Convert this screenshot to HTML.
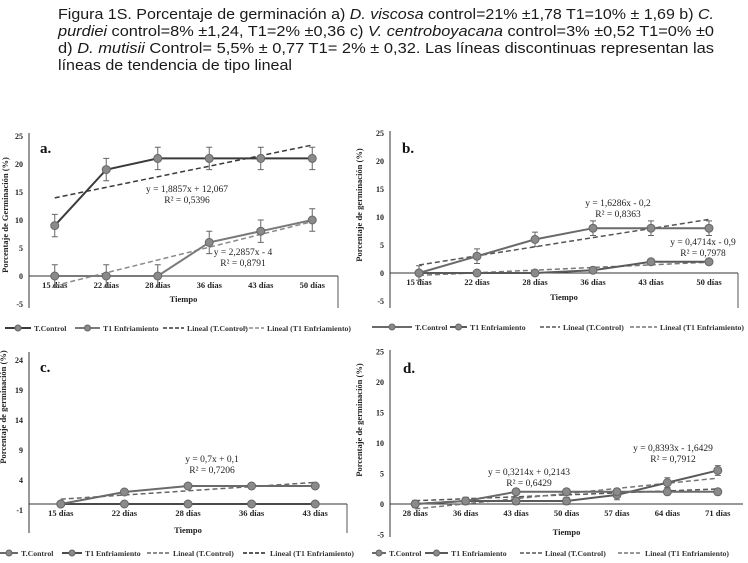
<!DOCTYPE html>
<html><head><meta charset="utf-8">
<style>
body{margin:0;background:#fff;}
svg{display:block;}
.cap{font-family:"Liberation Sans",sans-serif;font-size:15px;fill:#1a1a1a;}
.tick{font-family:"Liberation Serif",serif;font-weight:bold;font-size:8px;fill:#222;}
.cat{font-family:"Liberation Serif",serif;font-weight:bold;font-size:8.5px;fill:#222;}
.ttl{font-family:"Liberation Serif",serif;font-weight:bold;font-size:8.5px;fill:#222;}
.eq{font-family:"Liberation Serif",serif;font-size:9.5px;fill:#222;}
.lab{font-family:"Liberation Serif",serif;font-weight:bold;font-size:15px;fill:#111;}
.leg{font-family:"Liberation Serif",serif;font-weight:bold;font-size:7.8px;fill:#333;}
</style></head>
<body>
<svg id="fig" width="748" height="563" viewBox="0 0 748 563">
<g>
<text class="cap" x="58" y="19" textLength="656" lengthAdjust="spacingAndGlyphs">Figura 1S. Porcentaje de germinación a) <tspan font-style="italic">D. viscosa</tspan> control=21% ±1,78 T1=10% ± 1,69 b) <tspan font-style="italic">C.</tspan></text>
<text class="cap" x="58" y="36" textLength="656" lengthAdjust="spacingAndGlyphs"><tspan font-style="italic">purdiei</tspan> control=8% ±1,24, T1=2% ±0,36 c) <tspan font-style="italic">V. centroboyacana</tspan> control=3% ±0,52 T1=0% ±0</text>
<text class="cap" x="58" y="53" textLength="656" lengthAdjust="spacingAndGlyphs">d) <tspan font-style="italic">D. mutisii</tspan> Control= 5,5% ± 0,77 T1= 2% ± 0,32. Las líneas discontinuas representan las</text>
<text class="cap" x="58" y="70" textLength="234" lengthAdjust="spacingAndGlyphs">líneas de tendencia de tipo lineal</text>
</g>
</svg>
<script>
// Panel a data
const catsA = ["15 días","22 días","28 días","36 días","43 días","50 días"];
const ctrlA = [9,19,21,21,21,21];
const t1A = [0,0,0,6,8,10];
const errCtrlA = [2,2,2,2,2,2];
const errT1A = [2,2,2,2,2,2];
const ticksA = [-5,0,5,10,15,20,25];
// Panel b data
const catsB = ["15 días","22 días","28 días","36 días","43 días","50 días"];
const ctrlB = [0,3,6,8,8,8];
const t1B = [0,0,0,0.5,2,2];
const errCtrlB = [1.3,1.3,1.3,1.3,1.3,1.3];
const errT1B = [0.3,0.3,0.3,0.3,0.3,0.3];
const ticksB = [-5,0,5,10,15,20,25];
// Panel c data
const catsC = ["15 días","22 días","28 días","36 días","43 días"];
const ctrlC = [0,2,3,3,3];
const t1C = [0,0,0,0,0];
const ticksC = [-1,4,9,14,19,24];
// Panel d data
const catsD = ["28 días","36 días","43 días","50 días","57 días","64 días","71 días"];
const ctrlD = [0,0.5,2,2,2,2,2];
const t1D = [0,0.5,0.5,0.5,1.5,3.5,5.5];
const errCtrlD = [0.5,0.5,0.5,0.5,0.5,0.5,0.5];
const errT1D = [0.6,0.6,0.6,0.6,0.8,0.8,0.8];
const ticksD = [-5,0,5,10,15,20,25];

const NS="http://www.w3.org/2000/svg";
const svg=document.getElementById('fig');
function mk(tag,attrs,parent,txt){const e=document.createElementNS(NS,tag);for(const k in attrs)e.setAttribute(k,attrs[k]);if(txt!==undefined)e.textContent=txt;(parent||svg).appendChild(e);return e;}
function fit(v){const n=v.length;let mx=(n+1)/2,my=v.reduce((a,b)=>a+b,0)/n,s=0,d=0;v.forEach((y,i)=>{s+=(i+1-mx)*(y-my);d+=(i+1-mx)*(i+1-mx);});const m=s/d;return [m,my-m*mx];}

function panel(P){
  const g=mk('g',{});
  
  
  const n=P.cats.length;
  const xs=i=>P.x0+(P.x1-P.x0)*(i+0.5)/n;
  const xc=x=>P.x0+(P.x1-P.x0)*(x-0.5)/n;
  const ys=v=>P.y0-(v)*P.ppu;
  const ya=mk('line',{x1:P.x0,y1:P.yTop,x2:P.x0,y2:P.yBot,stroke:'#333','stroke-width':1},g);
  
  const xa=mk('line',{x1:P.x0,y1:ys(0),x2:P.x1,y2:ys(0),stroke:'#333','stroke-width':1},g);
  
  if(P.rightEdge){mk('line',{x1:P.x1,y1:ys(0),x2:P.x1,y2:P.yBot,stroke:'#555','stroke-width':1},g);}
  P.ticks.forEach(t=>{const e=mk('text',{class:'tick',x:P.x0-6,y:ys(t)+3,'text-anchor':'end'},g,String(t));
    });
  P.cats.forEach((c,i)=>{const e=mk('text',{class:'cat',x:xs(i),y:ys(0)+12,'text-anchor':'middle'},g,c);
    });
  const xt=mk('text',{class:'ttl',x:(P.x0+P.x1)/2,y:P.tiempoY,'text-anchor':'middle'},g,'Tiempo');
  
  const yt=mk('text',{class:'ttl',x:0,y:0,'text-anchor':'middle',transform:`translate(${P.ytX},${P.ytY}) rotate(-90)`},g,P.ytitle);
  
  const lb=mk('text',{class:'lab',x:P.labX,y:P.labY},g,P.id+'.');
  
  [[P.ctrl,P.ctrlTrendColor],[P.t1,P.t1TrendColor]].forEach(([v,col],k)=>{
    const [m,b]=fit(v);
    const tl=mk('line',{x1:xc(1),y1:ys(m*1+b),x2:xc(n),y2:ys(m*n+b),stroke:col,'stroke-width':1.5,'stroke-dasharray':'5,3'},g);
    
  });
  [[P.t1,P.errT1,P.t1Color,'t1'],[P.ctrl,P.errCtrl,P.ctrlColor,'control']].forEach(([v,err,col,nm])=>{
    if(err){v.forEach((y,i)=>{const eb=mk('path',{d:`M${xs(i)},${ys(y+err[i])}V${ys(y-err[i])}M${xs(i)-3},${ys(y+err[i])}h6M${xs(i)-3},${ys(y-err[i])}h6`,stroke:'#666','stroke-width':1,fill:'none'},g);
      });}
    const pl=mk('polyline',{points:v.map((y,i)=>xs(i)+','+ys(y)).join(' '),fill:'none',stroke:col,'stroke-width':2},g);
    
    v.forEach((y,i)=>{const c=mk('circle',{cx:xs(i),cy:ys(y),r:4,fill:'#8a8a8a',stroke:'#666','stroke-width':1},g);
      });
  });
  P.eqs.forEach(q=>{
    const e1=mk('text',{class:'eq',x:q[0],y:q[1],'text-anchor':'middle'},g,q[2]);
    
    const e2=mk('text',{class:'eq',x:q[0],y:q[1]+11,'text-anchor':'middle'},g,q[3]);
    
  });
  const L=P.leg, ly=P.legY;
  const lg=mk('g',{},g);
  
  const names=['T.Control','T1 Enfriamiento','Lineal (T.Control)','Lineal (T1 Enfriamiento)'];
  const cols=[P.ctrlColor,P.t1Color,P.ctrlTrendColor,P.t1TrendColor];
  L.forEach((s,k)=>{
    const ent=mk('g',{},lg);
    
    if(k<2){mk('line',{x1:s[0],y1:ly,x2:s[1],y2:ly,stroke:cols[k],'stroke-width':2},ent);
      mk('circle',{cx:(s[0]+s[1])/2,cy:ly,r:3,fill:'#8a8a8a',stroke:'#666'},ent);}
    else mk('line',{x1:s[0],y1:ly,x2:s[1],y2:ly,stroke:cols[k],'stroke-width':1.5,'stroke-dasharray':'4,2'},ent);
    mk('text',{class:'leg',x:s[1]+3,y:ly+3},ent,names[k]);
  });
}

panel({id:'a',cats:catsA,ctrl:ctrlA,t1:t1A,errCtrl:errCtrlA,errT1:errT1A,ticks:ticksA,
  x0:29,x1:338,y0:276,ppu:5.6,yTop:133,yBot:308,rightEdge:true,tiempoY:302,
  ytitle:'Porcentaje de Germinación (%)',ytX:8,ytY:215,labX:40,labY:153,
  ctrlColor:'#3a3a3a',t1Color:'#7a7a7a',ctrlTrendColor:'#3a3a3a',t1TrendColor:'#8a8a8a',
  eqs:[[187,192,'y = 1,8857x + 12,067','R² = 0,5396'],[243,255,'y = 2,2857x - 4','R² = 0,8791']],
  legY:328,leg:[[5,31],[75,100],[163,184],[243,264]]});
panel({id:'b',cats:catsB,ctrl:ctrlB,t1:t1B,errCtrl:errCtrlB,errT1:errT1B,ticks:ticksB,
  x0:390,x1:738,y0:273,ppu:5.6,yTop:131,yBot:308,rightEdge:true,tiempoY:300,
  ytitle:'Porcentaje de germinación (%)',ytX:362,ytY:205,labX:402,labY:153,
  ctrlColor:'#6a6a6a',t1Color:'#5a5a5a',ctrlTrendColor:'#555',t1TrendColor:'#777',
  eqs:[[618,206,'y = 1,6286x - 0,2','R² = 0,8363'],[703,245,'y = 0,4714x - 0,9','R² = 0,7978']],
  legY:327,leg:[[372,412],[450,467],[540,560],[630,657]]});
panel({id:'c',cats:catsC,ctrl:ctrlC,t1:t1C,errCtrl:null,errT1:null,ticks:ticksC,
  x0:29,x1:347,y0:504,ppu:6,yTop:352,yBot:533,rightEdge:true,tiempoY:533,
  ytitle:'Porcentaje de germinación (%)',ytX:6,ytY:407,labX:40,labY:372,
  ctrlColor:'#6a6a6a',t1Color:'#4a4a4a',ctrlTrendColor:'#666',t1TrendColor:'#222',
  eqs:[[212,462,'y = 0,7x + 0,1','R² = 0,7206']],
  legY:553,leg:[[0,18],[62,82],[147,170],[243,267]]});
panel({id:'d',cats:catsD,ctrl:ctrlD,t1:t1D,errCtrl:errCtrlD,errT1:errT1D,ticks:ticksD,
  x0:390,x1:743,y0:504,ppu:6.1,yTop:350,yBot:537,rightEdge:false,tiempoY:535,
  ytitle:'Porcentaje de germinación (%)',ytX:362,ytY:420,labX:403,labY:373,
  ctrlColor:'#6a6a6a',t1Color:'#5a5a5a',ctrlTrendColor:'#555',t1TrendColor:'#777',
  eqs:[[529,475,'y = 0,3214x + 0,2143','R² = 0,6429'],[673,451,'y = 0,8393x - 1,6429','R² = 0,7912']],
  legY:553,leg:[[372,386],[425,448],[520,542],[618,642]]});
</script>
</body></html>
